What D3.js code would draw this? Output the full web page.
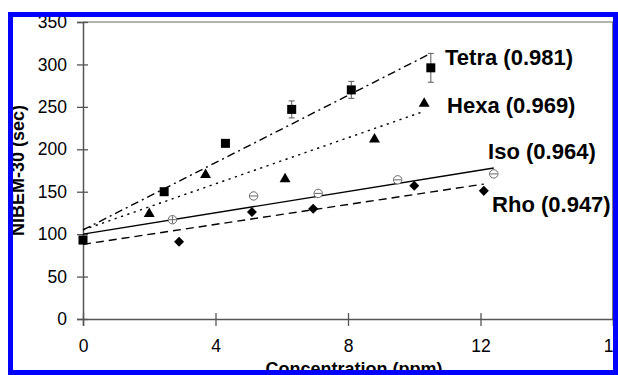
<!DOCTYPE html>
<html><head><meta charset="utf-8">
<script src="https://cdn.jsdelivr.net/npm/d3@7"></script>
<style>html,body{margin:0;padding:0;background:#fff}svg{display:block}</style>
</head><body>
<svg id="c" width="618" height="375"></svg>
<script>
// ---- data ----
const xTicks = [0, 4, 8, 12, 16];
const yTicks = [0, 50, 100, 150, 200, 250, 300, 350];
const tetraX = [0, 2.45, 4.3, 6.3, 8.1, 10.5];
const tetraY = [93, 150, 207, 247, 270, 296];
const tetraErr = [0, 0, 0, 10, 10, 17];
const hexaX = [2.0, 3.7, 6.1, 8.8, 10.3];
const hexaY = [125, 171, 166, 213, 255];
const isoX = [2.7, 5.15, 7.1, 9.5, 12.4];
const isoY = [117, 145, 148, 164, 171];
const rhoX = [2.9, 5.1, 6.95, 10.0, 12.1];
const rhoY = [91, 126, 130, 157, 151];
// trend lines [x0, y0, x1, y1]
const tetraFit = [0, 105, 10.5, 313];
const hexaFit = [0, 105, 10.24, 244];
const isoFit = [0, 100, 12.4, 178];
const rhoFit = [0, 88, 12.1, 159];
const labels = [
  {text: "Tetra (0.981)", x: 10.93, y: 299},
  {text: "Hexa (0.969)", x: 10.99, y: 243},
  {text: "Iso (0.964)", x: 12.23, y: 188},
  {text: "Rho (0.947)", x: 12.35, y: 126}
];

const svg = d3.select("#c");
const x = d3.scaleLinear().domain([0, 16]).range([83, 613]);
const y = d3.scaleLinear().domain([0, 350]).range([319, 22]);
const F = "'Liberation Sans', Arial, sans-serif";
const axisCol = "#555";

// frame top & right
svg.append("line").attr("x1", x(0)).attr("x2", x(16)).attr("y1", y(350)).attr("y2", y(350))
  .attr("stroke", "#999").attr("stroke-width", 1.3);
svg.append("line").attr("x1", x(16)).attr("x2", x(16)).attr("y1", y(350)).attr("y2", y(0))
  .attr("stroke", axisCol).attr("stroke-width", 1.5);

// axes
const yAxis = svg.append("g").attr("transform", `translate(${x(0)},0)`)
  .call(d3.axisLeft(y).tickValues(yTicks).tickSize(6).tickPadding(10));
const xAxis = svg.append("g").attr("transform", `translate(0,${y(0)})`)
  .call(d3.axisBottom(x).tickValues(xTicks).tickSize(7).tickPadding(14));
[yAxis, xAxis].forEach(g => {
  g.select(".domain").attr("stroke", axisCol).attr("stroke-width", 1.5);
  g.selectAll(".tick line").attr("stroke", axisCol).attr("stroke-width", 1.3);
  g.selectAll("text").attr("font-family", F).attr("font-size", 17.5).attr("fill", "#000");
});
yAxis.selectAll(".tick line").attr("x1", 5);
xAxis.selectAll(".tick line").attr("y1", -6);
xAxis.selectAll("text").attr("dy", "0.71em");

// axis titles
svg.append("text").attr("transform", `translate(24,${(y(0) + y(350)) / 2}) rotate(-90)`)
  .attr("text-anchor", "middle").attr("font-family", F).attr("font-weight", "bold")
  .attr("font-size", 18).text("NIBEM-30 (sec)");
svg.append("text").attr("x", (x(0) + x(16)) / 2 + 6).attr("y", 375)
  .attr("text-anchor", "middle").attr("font-family", F).attr("font-weight", "bold")
  .attr("font-size", 18).text("Concentration (ppm)");

// trend lines
function fit(f, dash) {
  svg.append("line").attr("x1", x(f[0])).attr("y1", y(f[1])).attr("x2", x(f[2])).attr("y2", y(f[3]))
    .attr("stroke", "#000").attr("stroke-width", 1.4).attr("stroke-dasharray", dash);
}
fit(rhoFit, "8,5");
fit(isoFit, null);
fit(hexaFit, "2.2,4.5");
fit(tetraFit, "8,4,2,4");

// error bars (tetra)
tetraX.forEach((cx, i) => {
  const e = tetraErr[i];
  if (!e) return;
  const g = svg.append("g").attr("stroke", "#666").attr("stroke-width", 1.1);
  g.append("line").attr("x1", x(cx)).attr("x2", x(cx)).attr("y1", y(tetraY[i] - e)).attr("y2", y(tetraY[i] + e));
  [tetraY[i] - e, tetraY[i] + e].forEach(v =>
    g.append("line").attr("x1", x(cx) - 3).attr("x2", x(cx) + 3).attr("y1", y(v)).attr("y2", y(v)));
});

// markers
svg.append("g").selectAll("path").data(rhoX).join("path")
  .attr("d", d3.symbol(d3.symbolDiamond2, 64)())
  .attr("transform", (d, i) => `translate(${x(d)},${y(rhoY[i])})`).attr("fill", "#000");
svg.append("g").selectAll("path").data(hexaX).join("path")
  .attr("d", d3.symbol(d3.symbolTriangle, 52)())
  .attr("transform", (d, i) => `translate(${x(d)},${y(hexaY[i]) + 1})`).attr("fill", "#000");
svg.append("g").selectAll("rect").data(tetraX).join("rect")
  .attr("x", d => x(d) - 4.5).attr("y", (d, i) => y(tetraY[i]) - 4.5)
  .attr("width", 9).attr("height", 9).attr("fill", "#000");
const iso = svg.append("g").selectAll("g").data(isoX).join("g")
  .attr("transform", (d, i) => `translate(${x(d)},${y(isoY[i])})`);
iso.append("circle").attr("r", 4.2).attr("fill", "#fff").attr("stroke", "#666").attr("stroke-width", 1);
iso.append("line").attr("x1", -3.5).attr("x2", 3.5).attr("stroke", "#666").attr("stroke-width", 1);
iso.filter((d, i) => i === 0).append("line").attr("y1", -3.5).attr("y2", 3.5)
  .attr("stroke", "#666").attr("stroke-width", 1);

// series labels
svg.append("g").selectAll("text").data(labels).join("text")
  .attr("x", d => x(d.x)).attr("y", d => y(d.y))
  .attr("font-family", F).attr("font-weight", "bold").attr("font-size", 22).attr("fill", "#000")
  .text(d => d.text);

// blue frame
svg.append("rect").attr("x", 10.5).attr("y", 14.5).attr("width", 605).attr("height", 358)
  .attr("fill", "none").attr("stroke", "#0000ff").attr("stroke-width", 5);
svg.append("rect").attr("x", 618).attr("y", 0).attr("width", 10).attr("height", 375).attr("fill", "#fff");
</script>
</body></html>
